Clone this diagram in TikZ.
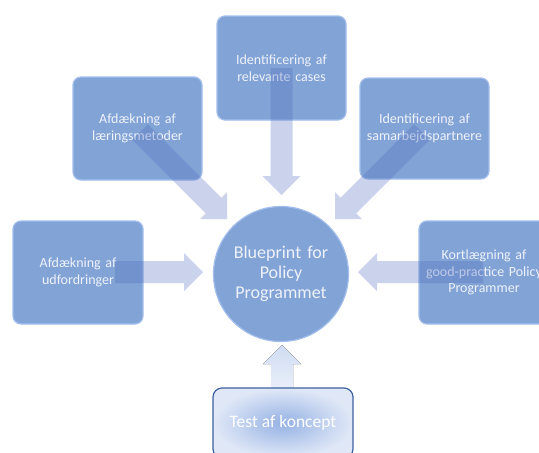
\documentclass[tikz,border=0pt]{standalone}
\usepackage{fontspec}
\setmainfont{Carlito}
\usetikzlibrary{calc,shadings}
\definecolor{boxfill}{RGB}{130,163,214}
\definecolor{boxline}{RGB}{162,190,236}
\definecolor{txt}{RGB}{238,242,250}
\definecolor{arrowc}{RGB}{80,110,190}
\definecolor{testline}{RGB}{62,98,160}
\definecolor{testin}{RGB}{150,178,228}
\definecolor{testout}{RGB}{224,232,247}
\newcommand\fatarrow[3][]{%
  \coordinate (fa-h) at ($(#3)!19pt!(#2)$);
  \fill[#1] ($(#2)!11pt!90:(#3)$) -- ($(fa-h)!11pt!90:(#3)$) -- ($(fa-h)!19pt!90:(#3)$) -- (#3)
    -- ($(fa-h)!19pt!-90:(#3)$) -- ($(fa-h)!11pt!-90:(#3)$) -- ($(#2)!11pt!-90:(#3)$) -- cycle;}
\begin{document}
\begin{tikzpicture}[x=1pt,y=-1pt,
  box/.style={draw=boxline, line width=1.2pt, fill=boxfill, rounded corners=8pt,
    minimum width=129pt, minimum height=103pt, text width=125pt, align=center,
    text=txt, font=\fontsize{14}{16.5}\selectfont, inner sep=0pt},
  hub/.style={circle, draw=boxline, line width=1.2pt, fill=boxfill, minimum size=135pt,
    text width=110pt, align=center, text=txt, font=\fontsize{18}{20}\selectfont, inner sep=0pt},
  testbox/.style={draw=testline, line width=1.2pt, rounded corners=9pt, inner color=testin,
    outer color=testout, minimum width=140pt, minimum height=70pt, text=white,
    font=\fontsize{17.5}{20}\selectfont, inner sep=0pt},
  flow/.style={fill=arrowc, fill opacity=0.3},
  upflow/.style={top color=testin!45!white, bottom color=testout!70!white}]
\useasboundingbox (0,0) rectangle (539,453);
% boxes
\node[box, minimum height=104pt] (cases) at (281.5,68) {Identificering af\\relevante cases};
\node[box] (laer) at (137.5,128.5) {Afdækning af\\læringsmetoder};
\node[box, minimum height=101pt] (samarb) at (424.5,128.5) {Identificering af\\samarbejdspartnere};
\node[box, minimum width=130pt] (udf) at (78,272.5) {Afdækning af\\udfordringer};
\node[box, minimum width=130pt] (kort) at (484,272.5) {Kortlægning af\\good-practice Policy\\Programmer};
% arrow ends
\coordinate (s1) at (281.5,68);  \coordinate (t1) at (281.5,195);
\coordinate (s2) at (140,132);   \coordinate (t2) at (227,219);
\coordinate (s3) at (422,132);   \coordinate (t3) at (335,219);
\coordinate (s4) at (115,272);   \coordinate (t4) at (203,272);
\coordinate (s5) at (483,272);   \coordinate (t5) at (358,272);
\coordinate (s6) at (282,389);   \coordinate (t6) at (282,345);
\fatarrow[flow]{s1}{t1}
\fatarrow[flow]{s2}{t2}
\fatarrow[flow]{s3}{t3}
\fatarrow[flow]{s4}{t4}
\fatarrow[flow]{s5}{t5}
\fatarrow[upflow]{s6}{t6}
% hub
\node[hub] (hubc) at (281,274) {Blueprint for\\Policy\\Programmet};
% test
\node[testbox] (test) at (283,423) {Test af koncept};
\end{tikzpicture}
\end{document}
